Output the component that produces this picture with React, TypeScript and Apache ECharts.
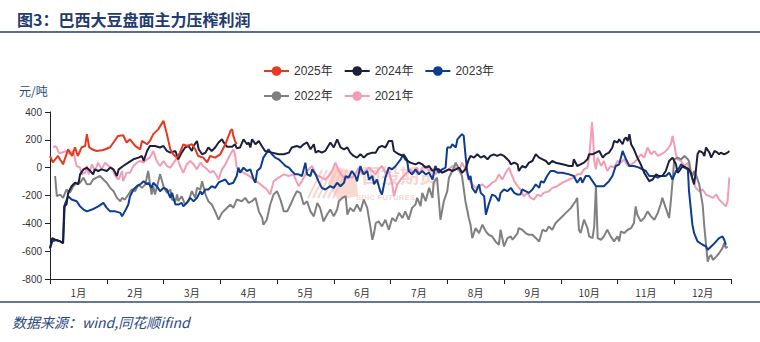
import React, { useEffect, useRef } from 'react';
import * as echarts from 'echarts';

const monthLabels = ['1月', '2月', '3月', '4月', '5月', '6月', '7月', '8月', '9月', '10月', '11月', '12月'];
const yMin = -800;
const yMax = 400;
const yStep = 200;

const seriesNames = ['2025年', '2024年', '2023年', '2022年', '2021年'];
const seriesColors = ['#E8381E', '#1C1E3C', '#0B3D91', '#808080', '#F39DB5'];

// [month position (0 = start of Jan, 12 = end of Dec), value in 元/吨]
const data2025: [number, number][] = [[0,84],[0.05,38],[0.14,84],[0.23,24],[0.32,132],[0.39,84],[0.44,147],[0.49,84],[0.56,147],[0.62,156],[0.65,241],[0.69,147],[0.74,132],[0.82,120],[0.94,127],[1.06,147],[1.20,228],[1.29,233],[1.35,181],[1.41,204],[1.50,156],[1.59,132],[1.62,192],[1.71,168],[1.76,192],[1.82,241],[1.91,277],[2.00,337],[2.06,241],[2.12,132],[2.17,96],[2.24,72],[2.29,110],[2.35,168],[2.41,156],[2.50,168],[2.56,132],[2.61,84],[2.70,72],[2.77,38],[2.82,84],[2.91,72],[3.00,96],[3.09,168],[3.18,265],[3.21,277],[3.23,228],[3.26,192],[3.29,168]];

const data2024: [number, number][] = [[0,-580],[0.04,-506],[0.11,-520],[0.18,-530],[0.23,-542],[0.25,-278],[0.29,-265],[0.32,-181],[0.38,-133],[0.44,-108],[0.50,-120],[0.53,-48],[0.59,-12],[0.65,0],[0.71,-24],[0.76,-48],[0.79,-12],[0.85,-24],[0.91,-12],[1.00,-24],[1.06,0],[1.12,-12],[1.18,-60],[1.21,-12],[1.29,12],[1.38,36],[1.47,60],[1.56,72],[1.62,84],[1.65,48],[1.71,120],[1.76,156],[1.85,156],[1.94,145],[2.00,156],[2.06,120],[2.12,108],[2.21,120],[2.26,60],[2.32,108],[2.38,145],[2.44,156],[2.50,120],[2.53,156],[2.59,192],[2.62,132],[2.68,96],[2.74,108],[2.79,145],[2.85,120],[2.91,145],[2.97,181],[3.03,204],[3.06,181],[3.12,150],[3.21,150],[3.26,168],[3.29,140],[3.35,145],[3.41,204],[3.47,168],[3.50,181],[3.53,145],[3.56,204],[3.62,168],[3.68,192],[3.74,150],[3.79,120],[3.91,108],[4.03,96],[4.12,96],[4.21,108],[4.26,145],[4.35,156],[4.41,145],[4.47,168],[4.53,181],[4.59,132],[4.65,168],[4.68,108],[4.73,120],[4.79,108],[4.85,120],[4.94,181],[5.00,145],[5.06,204],[5.12,145],[5.18,132],[5.24,145],[5.29,108],[5.35,84],[5.41,72],[5.47,96],[5.53,72],[5.59,96],[5.68,108],[5.74,108],[5.79,145],[5.85,156],[5.91,145],[5.97,192],[6.03,192],[6.06,120],[6.15,96],[6.23,84],[6.26,60],[6.35,36],[6.44,24],[6.50,36],[6.56,24],[6.62,0],[6.68,12],[6.74,-24],[6.79,-12],[6.85,-12],[6.91,-36],[6.97,-24],[7.03,-12],[7.09,-24],[7.15,-12],[7.21,0],[7.26,-36],[7.32,-12],[7.35,24],[7.38,60],[7.41,84],[7.47,72],[7.53,96],[7.59,72],[7.65,84],[7.71,60],[7.76,84],[7.82,96],[7.88,84],[7.94,96],[8.00,84],[8.09,48],[8.12,24],[8.18,36],[8.24,24],[8.26,-24],[8.32,12],[8.38,0],[8.44,36],[8.50,48],[8.56,96],[8.62,72],[8.68,60],[8.74,48],[8.79,24],[8.85,48],[8.91,36],[9.03,24],[9.15,12],[9.21,12],[9.23,60],[9.29,12],[9.35,24],[9.41,36],[9.47,60],[9.50,96],[9.56,96],[9.62,108],[9.68,120],[9.74,72],[9.79,96],[9.85,108],[9.91,145],[9.94,192],[10.00,181],[10.03,204],[10.09,168],[10.12,204],[10.15,217],[10.18,192],[10.21,241],[10.24,168],[10.29,132],[10.35,72],[10.41,24],[10.47,-36],[10.56,-97],[10.62,-85],[10.68,-48],[10.73,-60],[10.79,-60],[10.85,-24],[10.91,48],[10.97,72],[11.03,24],[11.06,-36],[11.09,-24],[11.15,12],[11.21,0],[11.26,-12],[11.29,-36],[11.35,-120],[11.38,-24],[11.41,96],[11.44,120],[11.50,108],[11.53,84],[11.56,145],[11.62,108],[11.65,72],[11.71,120],[11.76,108],[11.79,96],[11.82,108],[11.88,96],[11.94,108],[11.97,120]];

const data2023: [number, number][] = [[0,-580],[0.04,-530],[0.11,-520],[0.18,-530],[0.23,-542],[0.26,-265],[0.32,-205],[0.38,-229],[0.47,-241],[0.53,-278],[0.59,-301],[0.65,-314],[0.74,-301],[0.85,-278],[0.94,-253],[1.00,-289],[1.06,-314],[1.15,-314],[1.24,-325],[1.27,-350],[1.32,-314],[1.38,-265],[1.41,-205],[1.47,-157],[1.53,-133],[1.59,-120],[1.65,-97],[1.71,-120],[1.73,-108],[1.79,-145],[1.82,-108],[1.88,-133],[1.94,-169],[2.00,-145],[2.06,-157],[2.12,-217],[2.15,-181],[2.21,-265],[2.26,-265],[2.32,-253],[2.35,-278],[2.41,-253],[2.47,-217],[2.53,-241],[2.59,-217],[2.65,-169],[2.68,-193],[2.74,-157],[2.79,-157],[2.85,-133],[2.91,-145],[2.97,-108],[3.00,-100],[3.09,-85],[3.15,-120],[3.23,-108],[3.29,-60],[3.32,0],[3.35,-36],[3.41,0],[3.47,-24],[3.53,-12],[3.59,-85],[3.62,-108],[3.65,-24],[3.71,0],[3.76,72],[3.82,108],[3.85,132],[3.91,96],[3.97,72],[4.03,60],[4.09,36],[4.15,12],[4.21,0],[4.26,-24],[4.32,-48],[4.38,-48],[4.44,-60],[4.50,36],[4.53,-48],[4.59,-60],[4.62,-12],[4.68,-48],[4.73,-97],[4.79,-145],[4.85,-157],[4.94,-133],[5.00,-145],[5.06,-108],[5.12,-133],[5.18,-108],[5.21,-60],[5.26,-72],[5.32,-24],[5.38,-60],[5.41,-97],[5.47,12],[5.50,-24],[5.53,-48],[5.59,-24],[5.62,-85],[5.68,-60],[5.71,-120],[5.76,-85],[5.82,-169],[5.85,-193],[5.91,-72],[5.97,0],[6.03,-12],[6.09,12],[6.18,60],[6.23,96],[6.29,60],[6.32,-24],[6.38,-48],[6.44,-12],[6.50,-48],[6.56,-24],[6.62,-48],[6.68,-36],[6.74,-85],[6.79,12],[6.85,-36],[6.91,-12],[6.97,0],[7.00,145],[7.06,145],[7.09,168],[7.15,145],[7.18,204],[7.23,228],[7.26,241],[7.29,228],[7.32,96],[7.35,-24],[7.38,-85],[7.41,-60],[7.44,-145],[7.50,-181],[7.56,-120],[7.59,-181],[7.65,-205],[7.68,-338],[7.73,-265],[7.79,-193],[7.85,-205],[7.91,-241],[7.94,-181],[8.00,-157],[8.06,-169],[8.12,-145],[8.18,-181],[8.24,-193],[8.29,-193],[8.32,-157],[8.38,-169],[8.44,-181],[8.50,-157],[8.56,-120],[8.62,-145],[8.65,-97],[8.70,-108],[8.76,-60],[8.82,-24],[8.88,-24],[8.94,-36],[9.03,-36],[9.15,-48],[9.23,-60],[9.29,-108],[9.35,-72],[9.38,-108],[9.44,-60],[9.50,-60],[9.56,-97],[9.62,-133],[9.71,-133],[9.76,-133],[9.85,-97],[9.91,-60],[9.97,12],[10.03,24],[10.09,120],[10.15,60],[10.21,12],[10.29,12],[10.38,0],[10.44,-12],[10.50,-24],[10.56,-60],[10.65,-60],[10.71,-72],[10.76,-60],[10.85,-60],[10.91,-36],[10.97,-85],[11.03,-24],[11.09,0],[11.12,24],[11.18,0],[11.24,-12],[11.26,-169],[11.29,-289],[11.32,-410],[11.35,-470],[11.41,-530],[11.50,-554],[11.56,-566],[11.59,-590],[11.65,-566],[11.71,-542],[11.79,-506],[11.85,-494],[11.88,-518],[11.91,-554]];

const data2022: [number, number][] = [[0.09,-60],[0.12,-205],[0.18,-193],[0.23,-217],[0.29,-157],[0.35,-181],[0.41,-133],[0.47,-108],[0.53,-108],[0.59,-72],[0.65,-120],[0.71,-120],[0.76,-85],[0.82,-72],[0.88,-60],[0.94,-85],[1.00,-108],[1.06,-145],[1.12,-169],[1.18,-217],[1.24,-241],[1.27,-217],[1.32,-229],[1.38,-193],[1.44,-157],[1.50,-169],[1.56,-120],[1.62,-145],[1.68,-120],[1.73,-24],[1.79,-193],[1.82,-133],[1.85,-193],[1.91,-97],[1.94,-48],[2.00,-133],[2.03,-157],[2.06,-181],[2.12,-157],[2.15,-229],[2.21,-241],[2.24,-193],[2.26,-241],[2.32,-205],[2.38,-265],[2.44,-241],[2.50,-169],[2.56,-217],[2.59,-145],[2.65,-157],[2.68,-97],[2.74,-193],[2.79,-241],[2.85,-265],[2.91,-314],[2.97,-374],[3.03,-325],[3.09,-301],[3.18,-265],[3.23,-289],[3.29,-229],[3.38,-241],[3.44,-217],[3.50,-253],[3.56,-241],[3.62,-217],[3.68,-314],[3.74,-362],[3.76,-410],[3.82,-374],[3.88,-265],[3.94,-193],[4.00,-169],[4.06,-229],[4.12,-314],[4.18,-314],[4.24,-265],[4.29,-217],[4.35,-169],[4.41,-181],[4.47,-265],[4.53,-241],[4.59,-314],[4.65,-350],[4.71,-253],[4.76,-289],[4.82,-386],[4.88,-338],[4.94,-301],[5.00,-350],[5.06,-301],[5.09,-241],[5.15,-217],[5.21,-205],[5.24,-338],[5.29,-289],[5.35,-314],[5.41,-265],[5.47,-314],[5.53,-229],[5.59,-289],[5.62,-362],[5.65,-434],[5.68,-518],[5.71,-470],[5.74,-398],[5.79,-386],[5.85,-422],[5.91,-374],[5.97,-446],[6.03,-362],[6.09,-386],[6.15,-325],[6.21,-362],[6.26,-314],[6.32,-374],[6.38,-289],[6.44,-265],[6.47,-217],[6.53,-277],[6.56,-181],[6.62,-241],[6.68,-145],[6.74,-217],[6.76,-108],[6.82,-72],[6.88,-374],[6.94,-241],[7.00,-169],[7.03,-72],[7.09,-24],[7.15,36],[7.21,-12],[7.26,-60],[7.32,-241],[7.38,-362],[7.41,-410],[7.44,-506],[7.50,-434],[7.56,-470],[7.62,-410],[7.68,-458],[7.73,-482],[7.79,-494],[7.85,-530],[7.91,-554],[7.94,-446],[8.00,-566],[8.06,-506],[8.12,-494],[8.15,-518],[8.24,-470],[8.26,-434],[8.32,-446],[8.38,-470],[8.44,-482],[8.50,-482],[8.56,-506],[8.62,-530],[8.68,-446],[8.74,-458],[8.79,-422],[8.85,-446],[8.91,-398],[9.00,-362],[9.09,-325],[9.18,-289],[9.26,-241],[9.29,-217],[9.32,-446],[9.35,-470],[9.41,-374],[9.47,-434],[9.50,-494],[9.56,-506],[9.59,-422],[9.62,-133],[9.65,-506],[9.71,-518],[9.76,-494],[9.82,-446],[9.88,-494],[9.94,-530],[10.00,-494],[10.03,-530],[10.06,-458],[10.12,-470],[10.18,-446],[10.24,-434],[10.29,-398],[10.32,-278],[10.35,-338],[10.41,-386],[10.47,-362],[10.53,-314],[10.59,-350],[10.65,-374],[10.71,-325],[10.76,-265],[10.79,-217],[10.85,-289],[10.91,-362],[10.94,-241],[10.97,-97],[11.00,60],[11.06,72],[11.12,60],[11.18,84],[11.24,60],[11.26,48],[11.29,-24],[11.32,-60],[11.35,-24],[11.38,-48],[11.44,-120],[11.50,-265],[11.53,-422],[11.56,-554],[11.59,-675],[11.62,-639],[11.65,-627],[11.68,-663],[11.74,-639],[11.79,-615],[11.85,-578],[11.88,-542],[11.91,-578],[11.94,-566]];

const data2021: [number, number][] = [[0.06,145],[0.09,156],[0.12,145],[0.15,108],[0.21,108],[0.29,120],[0.35,96],[0.41,120],[0.44,60],[0.47,12],[0.53,0],[0.56,-48],[0.62,-36],[0.65,12],[0.68,-48],[0.74,24],[0.79,-24],[0.85,36],[0.91,-12],[0.97,36],[1.03,12],[1.09,0],[1.15,-60],[1.21,-85],[1.27,-24],[1.29,-97],[1.35,-36],[1.41,-36],[1.47,12],[1.53,36],[1.59,48],[1.65,36],[1.71,60],[1.76,72],[1.82,120],[1.88,48],[1.94,12],[2.00,48],[2.06,12],[2.12,0],[2.18,36],[2.24,72],[2.29,12],[2.35,-36],[2.41,24],[2.47,48],[2.53,24],[2.59,-12],[2.65,36],[2.70,12],[2.77,-12],[2.82,-36],[2.88,-24],[2.94,-60],[2.97,-85],[3.03,-12],[3.09,24],[3.18,96],[3.23,132],[3.26,96],[3.29,0],[3.35,-24],[3.47,-48],[3.59,-85],[3.71,-120],[3.82,-157],[3.88,-193],[3.94,-97],[4.03,-72],[4.12,-48],[4.21,-60],[4.29,-48],[4.38,-133],[4.44,-97],[4.53,-24],[4.62,12],[4.68,-48],[4.73,-60],[4.79,-72],[4.85,-85],[4.91,-60],[4.97,-24],[5.03,36],[5.09,-24],[5.15,-60],[5.21,-85],[5.26,-60],[5.32,-72],[5.38,-48],[5.44,0],[5.50,-48],[5.56,-24],[5.62,0],[5.68,-24],[5.74,-48],[5.79,-12],[5.85,12],[5.91,-36],[5.97,-24],[6.03,-120],[6.06,-205],[6.12,-120],[6.18,-85],[6.26,-48],[6.35,-12],[6.41,-36],[6.47,0],[6.50,-48],[6.56,0],[6.62,12],[6.68,-24],[6.74,-12],[6.79,-48],[6.85,-12],[6.91,-36],[6.97,-24],[7.03,-12],[7.09,12],[7.15,0],[7.21,-24],[7.26,36],[7.32,-12],[7.38,-85],[7.44,-120],[7.50,-145],[7.56,-133],[7.62,-120],[7.68,-145],[7.73,-133],[7.79,-108],[7.85,-97],[7.91,-48],[7.97,-85],[8.03,-36],[8.09,0],[8.12,-36],[8.18,-97],[8.24,-133],[8.29,-157],[8.35,-205],[8.41,-181],[8.47,-217],[8.53,-229],[8.59,-193],[8.65,-205],[8.70,-181],[8.79,-169],[8.85,-145],[8.94,-133],[9.03,-108],[9.15,-85],[9.23,-72],[9.29,-48],[9.35,-48],[9.41,-12],[9.47,0],[9.50,72],[9.53,217],[9.55,325],[9.57,217],[9.59,48],[9.62,-12],[9.65,72],[9.71,12],[9.76,48],[9.82,-24],[9.88,12],[9.94,0],[10.00,48],[10.06,36],[10.12,60],[10.18,12],[10.24,24],[10.29,36],[10.35,60],[10.41,96],[10.47,72],[10.53,145],[10.59,96],[10.65,120],[10.71,84],[10.76,96],[10.82,108],[10.88,132],[10.94,168],[10.97,228],[11.00,168],[11.03,96],[11.06,60],[11.12,48],[11.18,12],[11.24,36],[11.26,-12],[11.32,-85],[11.38,-145],[11.44,-169],[11.50,-157],[11.56,-193],[11.62,-205],[11.68,-217],[11.74,-193],[11.79,-229],[11.85,-253],[11.91,-278],[11.94,-241],[11.97,-72]];

const seriesData = [data2025, data2024, data2023, data2022, data2021];

const LATIN = '"Liberation Sans", Arial, "Noto Sans CJK SC", sans-serif';
const CJK = '"Noto Sans CJK SC", "Liberation Sans", sans-serif';
const NAVY_TEXT = '#1F3B6F';

export default function App() {
  const ref = useRef<HTMLDivElement>(null);

  useEffect(() => {
    if (!ref.current) return;
    const chart = echarts.init(ref.current, null, { renderer: 'svg' });

    const legendCommon = {
      left: 258,
      itemWidth: 25,
      itemHeight: 12,
      itemGap: 11,
      selectedMode: false,
      textStyle: { fontSize: 12, color: '#333', fontFamily: LATIN },
    };

    // draw 2021 first so 2025 ends on top
    const order = [4, 3, 2, 1, 0];
    const series = order.map((i) => ({
      name: seriesNames[i],
      type: 'line',
      xAxisIndex: 1,
      yAxisIndex: 0,
      data: seriesData[i],
      symbol: 'circle',
      showSymbol: false,
      smooth: false,
      lineStyle: { width: 2, color: seriesColors[i] },
      itemStyle: { color: seriesColors[i] },
      emphasis: { disabled: true },
      z: 3,
    }));

    chart.setOption({
      animation: false,
      backgroundColor: '#ffffff',
      title: {
        text: '图3：巴西大豆盘面主力压榨利润',
        left: 12,
        top: 6,
        textStyle: { fontSize: 16, fontWeight: 'bold', color: NAVY_TEXT, fontFamily: CJK },
      },
      legend: [
        { ...legendCommon, top: 60, data: seriesNames.slice(0, 3) },
        { ...legendCommon, top: 85, data: seriesNames.slice(3) },
      ],
      grid: {
        left: 50,
        right: 29,
        top: 112,
        bottom: 63,
        containLabel: false,
        outerBoundsMode: 'none',
      },
      xAxis: [
        {
          type: 'category',
          data: monthLabels,
          boundaryGap: true,
          axisLine: { show: true, onZero: false, lineStyle: { color: '#222', width: 1 } },
          axisTick: { show: true, interval: 0, length: 5, lineStyle: { color: '#222' } },
          axisLabel: { interval: 0, fontSize: 10, color: '#333', margin: 8, fontFamily: CJK },
          splitLine: { show: false },
        },
        {
          type: 'value',
          min: 0,
          max: 12,
          show: false,
          splitLine: { show: false },
        },
      ],
      yAxis: {
        type: 'value',
        min: yMin,
        max: yMax,
        interval: yStep,
        axisLine: { show: true, lineStyle: { color: '#222', width: 1 } },
        axisTick: { show: true, length: 5, lineStyle: { color: '#222' } },
        axisLabel: { fontSize: 10, color: '#333', margin: 8, fontFamily: LATIN },
        splitLine: { show: false },
      },
      graphic: [
        {
          type: 'line',
          shape: { x1: 0, y1: 32, x2: 760, y2: 32 },
          style: { stroke: NAVY_TEXT, lineWidth: 1.5 },
          silent: true,
        },
        {
          type: 'line',
          shape: { x1: 0, y1: 302, x2: 760, y2: 302 },
          style: { stroke: '#2E4B73', lineWidth: 1.5 },
          silent: true,
        },
        {
          type: 'text',
          left: 12,
          top: 315,
          style: {
            text: '数据来源：wind,同花顺ifind',
            fontSize: 14,
            fontStyle: 'italic',
            fill: '#2B4A7E',
            fontFamily: CJK,
          },
          silent: true,
        },
        {
          type: 'text',
          left: 19,
          top: 84,
          style: { text: '元/吨', fontSize: 12, fill: '#2B4A7E', fontFamily: CJK },
          silent: true,
        },
        {
          type: 'group',
          silent: true,
          z: 0,
          children: [
            {
              type: 'polygon',
              shape: { points: [[334, 166], [356, 172], [358, 196], [338, 200], [328, 184]] },
              style: { fill: '#F6B9AE', opacity: 0.55 },
            },
            ...[0, 1, 2, 3, 4, 5].map((k) => ({
              type: 'line',
              shape: { x1: 308 + k * 5, y1: 198, x2: 322 + k * 5, y2: 170 },
              style: { stroke: '#F6B9AE', lineWidth: 2, opacity: 0.6 },
            })),
            {
              type: 'text',
              x: 362,
              y: 165,
              style: { text: '国投期货', fontSize: 19, fontWeight: 'bold', fill: '#F4AFA8', opacity: 0.55, fontFamily: CJK },
            },
            {
              type: 'text',
              x: 356,
              y: 193,
              style: { text: 'SDIC FUTURES', fontSize: 8, fontWeight: 'bold', fill: '#F4AFA8', opacity: 0.5, fontFamily: LATIN },
            },
          ],
        },
      ],
      series,
    });

    return () => chart.dispose();
  }, []);

  return (
    <div
      ref={ref}
      style={{ position: 'absolute', left: 0, top: 0, width: 760, height: 342, background: '#fff' }}
    />
  );
}
